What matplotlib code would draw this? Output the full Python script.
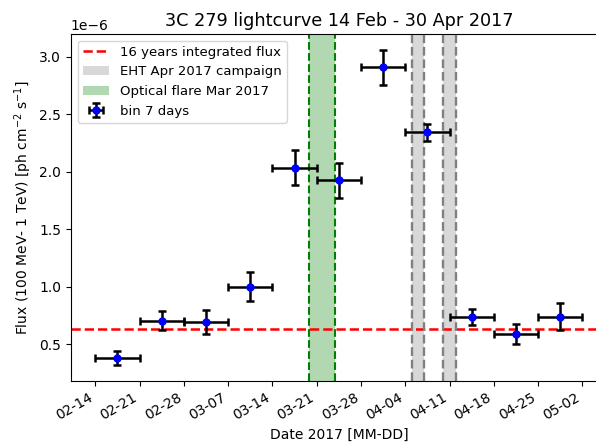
import numpy as np
import matplotlib
matplotlib.use("Agg")
import matplotlib.pyplot as plt
import matplotlib.dates as mdates

# weekly Fermi-LAT bins, 14 Feb - 2 May 2017
bin_start = np.arange(
    np.datetime64("2017-02-14"), np.datetime64("2017-05-02"), np.timedelta64(7, "D")
)
bin_days = 7.0
flux = np.array([0.378, 0.705, 0.694, 1.000, 2.033, 1.924, 2.907, 2.340, 0.737, 0.589, 0.740]) * 1e-6
flux_err = np.array([0.059, 0.080, 0.102, 0.123, 0.154, 0.153, 0.152, 0.070, 0.072, 0.090, 0.120]) * 1e-6

# 16 years integrated flux
flux_16yr = 0.630e-6

# EHT campaign windows and optical flare window
eht_windows = [("2017-04-05", "2017-04-07"), ("2017-04-10", "2017-04-12")]
flare_window = ("2017-03-19T19:00", "2017-03-23T20:00")

t_center = mdates.date2num(bin_start.astype("datetime64[s]")) + bin_days / 2

fig = plt.figure(figsize=(5.96, 4.44), dpi=100)
ax = fig.add_axes([0.119, 0.1426, 0.899, 0.7808])

hline = ax.axhline(flux_16yr, color="red", ls="--", lw=1.8, label="16 years integrated flux")

eht_patches = []
for t0, t1 in eht_windows:
    x0 = mdates.date2num(np.datetime64(t0))
    x1 = mdates.date2num(np.datetime64(t1))
    eht_patches.append(ax.axvspan(x0, x1, color="gray", alpha=0.3, lw=0))
    ax.axvline(x0, color="gray", ls="--", lw=1.7)
    ax.axvline(x1, color="gray", ls="--", lw=1.7)
eht_patches[0].set_label("EHT Apr 2017 campaign")

f0 = mdates.date2num(np.datetime64(flare_window[0]))
f1 = mdates.date2num(np.datetime64(flare_window[1]))
flare = ax.axvspan(f0, f1, color="green", alpha=0.3, lw=0, label="Optical flare Mar 2017")
ax.axvline(f0, color="green", ls="--", lw=1.5)
ax.axvline(f1, color="green", ls="--", lw=1.5)

eb = ax.errorbar(t_center, flux, xerr=bin_days / 2, yerr=flux_err, fmt="o",
                 color="blue", ecolor="black", elinewidth=1.8, capsize=3,
                 capthick=1.8, markersize=5, label="bin 7 days")

ax.xaxis_date()
ax.xaxis.set_major_locator(mdates.WeekdayLocator(byweekday=mdates.TU))
ax.xaxis.set_major_formatter(mdates.DateFormatter("%m-%d"))
for lab in ax.get_xticklabels():
    lab.set_rotation(30)
    lab.set_ha("right")

ax.set_xlabel("Date 2017 [MM-DD]")
ax.set_ylabel(r"Flux (100 MeV- 1 TeV) [ph cm$^{-2}$ s$^{-1}$]")
ax.set_title("3C 279 lightcurve 14 Feb - 30 Apr 2017", fontsize=12.7)
ax.legend(handles=[hline, eht_patches[0], flare, eb], loc="upper left", fontsize=9.5)

fig.savefig("out.png", dpi=100)
